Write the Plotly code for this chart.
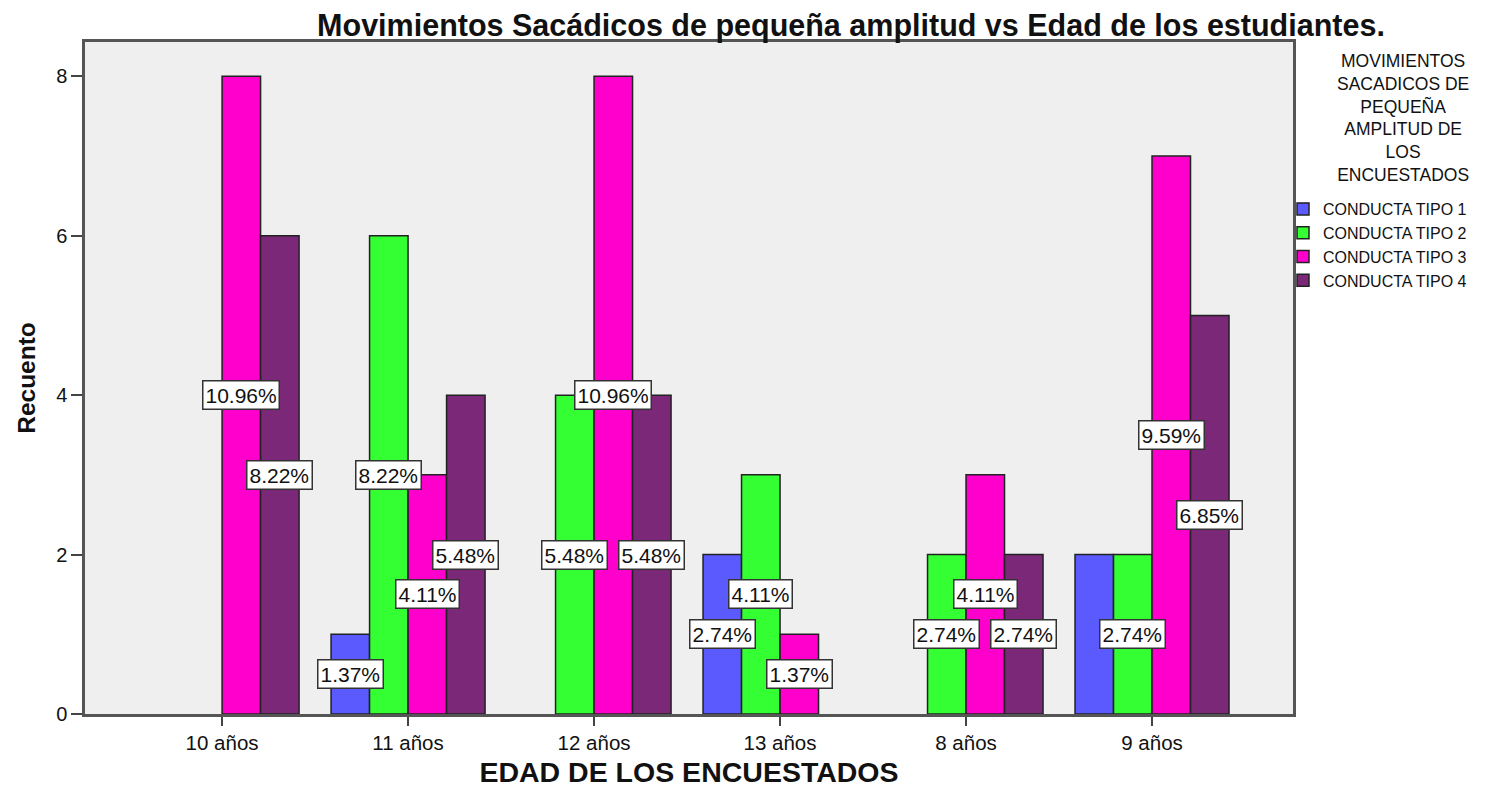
import plotly.graph_objects as go

# datos
edades = ["10 años", "11 años", "12 años", "13 años", "8 años", "9 años"]
conducta_1 = [0, 1, 0, 2, 0, 2]
conducta_2 = [0, 6, 4, 3, 2, 2]
conducta_3 = [8, 3, 8, 1, 3, 7]
conducta_4 = [6, 4, 4, 0, 2, 5]
series_names = ["CONDUCTA TIPO 1", "CONDUCTA TIPO 2", "CONDUCTA TIPO 3", "CONDUCTA TIPO 4"]
y_ticks = [0, 2, 4, 6, 8]
legend_title_lines = ["MOVIMIENTOS", "SACADICOS DE", "PEQUEÑA", "AMPLITUD DE", "LOS", "ENCUESTADOS"]

colors = ["#5a5aff", "#33ff33", "#ff00cc", "#7a2877"]
FONT = "Liberation Sans, Arial, sans-serif"

# la pagina deja 8px de margen en el body: la figura se encoge y se corre
OFF = 8
W, H = 1503 - OFF, 788 - OFF

series = [conducta_1, conducta_2, conducta_3, conducta_4]
total = sum(sum(s) for s in series)

BARGAP = 0.172
fig = go.Figure()
for name, vals, col in zip(series_names, series, colors):
    fig.add_trace(go.Bar(
        x=edades, y=[v if v else None for v in vals], name=name, marker_color=col,
        marker_line=dict(color="#222222", width=1.5),
        hoverinfo="skip",
    ))

# etiquetas de porcentaje a media altura de cada barra
bw = (1 - BARGAP) / len(series)
for i, vals in enumerate(series):
    for j, v in enumerate(vals):
        if v == 0:
            continue
        # SPSS oculta la etiqueta si se solapa con la de la barra vecina
        if i < len(series) - 1 and series[i + 1][j] == v:
            continue
        fig.add_annotation(
            x=j - (1 - BARGAP) / 2 + bw * (i + 0.5), y=v / 2,
            xref="x", yref="y", text=f"{v / total * 100:.2f}%",
            showarrow=False, bgcolor="white", bordercolor="#333333",
            borderwidth=1.5, borderpad=2,
            font=dict(family=FONT, size=21, color="#111111"),
        )

# titulo de la leyenda, centrado sobre los elementos
fig.add_annotation(
    xref="paper", yref="paper", x=(1403 - 85) / 1208, y=(714 - 118) / 672,
    text="<br>".join(legend_title_lines), showarrow=False,
    xanchor="center", yanchor="middle", align="center",
    font=dict(family=FONT, size=17.5, color="#111111"),
)

fig.update_layout(
    width=W, height=H,
    barmode="group", bargap=BARGAP, bargroupgap=0,
    paper_bgcolor="white", plot_bgcolor="#efefef",
    margin=dict(l=85 - OFF, r=210, t=42 - OFF, b=74, autoexpand=False),
    font=dict(family=FONT, color="#111111"),
    title=dict(
        text="<b>Movimientos Sacádicos de pequeña amplitud vs Edad de los estudiantes.</b>",
        x=(851 - OFF) / W, xanchor="center", y=1 - (25 - OFF) / H, yanchor="middle",
        font=dict(family=FONT, size=30.5, color="#111111"),
    ),
    legend=dict(
        x=(1283 - 85) / 1208, xanchor="left", y=(714 - 192) / 672, yanchor="top",
        font=dict(family=FONT, size=16, color="#111111"),
        bgcolor="rgba(0,0,0,0)", itemwidth=30, traceorder="normal",
    ),
    showlegend=True,
)

fig.update_xaxes(
    type="category", range=[-0.737, 5.758],
    showline=True, linecolor="#555555", linewidth=2.5, mirror=True,
    ticks="outside", ticklen=9, tickwidth=2, tickcolor="#444444",
    tickfont=dict(family=FONT, size=20.5, color="#111111"),
    showgrid=False, automargin=False,
    title=dict(text="<b>EDAD DE LOS ENCUESTADOS</b>", standoff=16,
               font=dict(family=FONT, size=28.5, color="#111111")),
)
fig.update_yaxes(
    range=[0, 8.43], tickvals=y_ticks,
    showline=True, linecolor="#555555", linewidth=2.5, mirror=True,
    ticks="outside", ticklen=11, tickwidth=2, tickcolor="#444444",
    tickfont=dict(family=FONT, size=20, color="#111111"),
    showgrid=False, zeroline=False, automargin=False,
    title=dict(text="<b>Recuento</b>", standoff=14,
               font=dict(family=FONT, size=24.5, color="#111111")),
)

fig.write_html("out.html", config={"displayModeBar": False})
